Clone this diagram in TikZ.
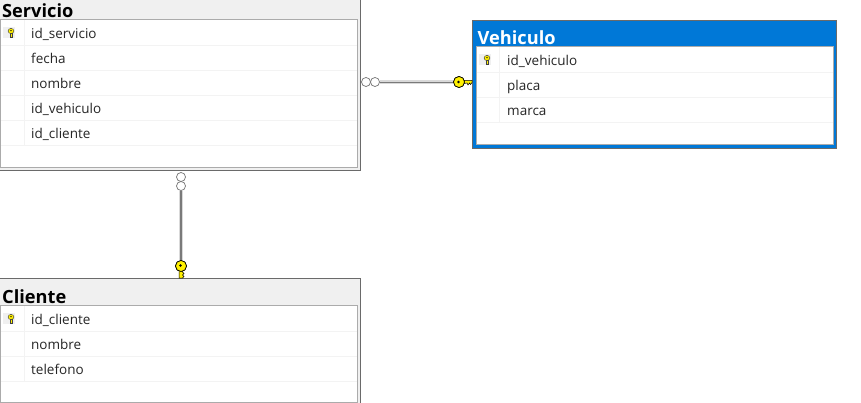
\documentclass[tikz,border=0pt]{standalone}
\usepackage{fontspec}
\setmainfont{Open Sans}
\newfontfamily\titlefont{Open Sans}
\definecolor{hdr}{HTML}{F0F0F0}
\definecolor{blu}{HTML}{0078D7}
\definecolor{frm}{HTML}{6A6A6A}
\definecolor{inn}{HTML}{ABABAB}
\definecolor{sep}{HTML}{F3F3F3}
\definecolor{keyy}{HTML}{FFF000}
\tikzset{
  x=1pt,y=-1pt,
  rowtext/.style={anchor=base west,inner sep=0pt,font=\fontsize{13.5}{15}\selectfont,text=black!85},
  titletext/.style={anchor=base west,inner sep=0pt,font=\titlefont\fontsize{18.2}{20}\selectfont\bfseries},
  outerframe/.style={draw=frm,line width=1pt},
  innerframe/.style={draw=inn,fill=white,line width=1pt},
  sepline/.style={draw=sep,line width=0.8pt},
  ring/.style={circle,draw=black!55,fill=white,line width=0.7pt,minimum size=9pt,inner sep=0pt},
  keyhead/.style={circle,draw=black,fill=keyy,line width=0.7pt,minimum size=11pt,inner sep=0pt},
  linkback/.style={draw=black!15,line width=3.6pt},
  linkfront/.style={draw=black!52,line width=1.1pt},
}
\newcommand{\smallkey}[2]{%
  \fill[black!6] (#1-8,#2-6) rectangle (#1+4,#2+5);
  \fill[keyy,draw=black!75,line width=0.5pt] (#1-0.8,#2) -- (#1-0.8,#2+4) -- (#1+1,#2+4) -- (#1+1,#2) -- cycle;
  \fill[keyy,draw=black!75,line width=0.5pt] (#1,#2-2) ellipse (2.9 and 2.6);
  \fill[black] (#1,#2-2.4) circle (0.7);
}
\begin{document}
\begin{tikzpicture}
\useasboundingbox (0,0) rectangle (861,403);
\fill[white] (0,0) rectangle (861,403);

% Servicio
\fill[hdr] (-3,-3) rectangle (360.5,171);
\draw[outerframe] (-3,-3) -- (360.5,-3) -- (360.5,171) -- (-3,171);
\draw[innerframe] (0.5,19.5) rectangle (357.5,168);
\foreach \yy in {45,70,95,120,145} \draw[sepline] (1,\yy) -- (357,\yy);
\draw[sepline] (24,20) -- (24,145);
\node[titletext] (tS) at (2,18) {Servicio};
\smallkey{11}{33}
\node[rowtext] (s1) at (31,38.5) {id\_servicio};
\node[rowtext] (s2) at (31,63.5) {fecha};
\node[rowtext] (s3) at (31,88.5) {nombre};
\node[rowtext] (s4) at (31,113.5) {id\_vehiculo};
\node[rowtext] (s5) at (31,138.5) {id\_cliente};

% Cliente
\fill[hdr] (-3,278.5) rectangle (360.5,406);
\draw[outerframe] (-3,278.5) -- (360.5,278.5) -- (360.5,406);
\draw[innerframe] (0.5,305.5) rectangle (357.5,402);
\foreach \yy in {331,356,381} \draw[sepline] (1,\yy) -- (357,\yy);
\draw[sepline] (24,306) -- (24,381);
\node[titletext] (tC) at (2,303) {Cliente};
\smallkey{11}{319}
\node[rowtext] (c1) at (31,324) {id\_cliente};
\node[rowtext] (c2) at (31,349) {nombre};
\node[rowtext] (c3) at (31,374) {telefono};

% Vehiculo
\fill[blu] (472.5,20.5) rectangle (836,148);
\draw[draw=frm,line width=0.8pt] (472.5,20.5) rectangle (836,148);
\draw[innerframe] (476,46.5) rectangle (833,144.5);
\foreach \yy in {72,97,122} \draw[sepline] (476.5,\yy) -- (832.5,\yy);
\draw[sepline] (499.5,47) -- (499.5,122);
\node[titletext,text=white] (tV) at (477.5,44.5) {Vehiculo};
\smallkey{487}{60}
\node[rowtext] (v1) at (507,65.5) {id\_vehiculo};
\node[rowtext] (v2) at (507,90.5) {placa};
\node[rowtext] (v3) at (507,115.5) {marca};

% Servicio -> Vehiculo
\node[ring] (r1) at (366,82) {};
\node[ring] (r2) at (375,82) {};
\node[keyhead] (k1) at (459,82) {};
\draw[linkback] (r2) -- (k1);
\draw[linkfront,transform canvas={yshift=-0.7pt}] (r2) -- (k1);
\fill[keyy,draw=black,line width=0.5pt] (464,80.3) -- (472,80.3) -- (472,82.5) -- (470.5,84.5) -- (469.5,83) -- (468,85) -- (467,83) -- (464,83.5) -- cycle;
\node[keyhead] at (459,82) {};
\fill (458.5,82) circle (1.3);

% Servicio -> Cliente
\node[ring] (r3) at (181,177) {};
\node[ring] (r4) at (181,186) {};
\node[keyhead] (k2) at (181,266) {};
\draw[linkback] (r4) -- (k2);
\draw[linkfront] (r4) -- (k2);
\fill[keyy,draw=black,line width=0.5pt] (179,270) -- (179,278) -- (182.5,278) -- (184,276.5) -- (182.5,275) -- (184,273.5) -- (182.5,272) -- (183,270) -- cycle;
\node[keyhead] at (181,266) {};
\fill (180.5,265.5) circle (1.3);
\end{tikzpicture}
\end{document}
